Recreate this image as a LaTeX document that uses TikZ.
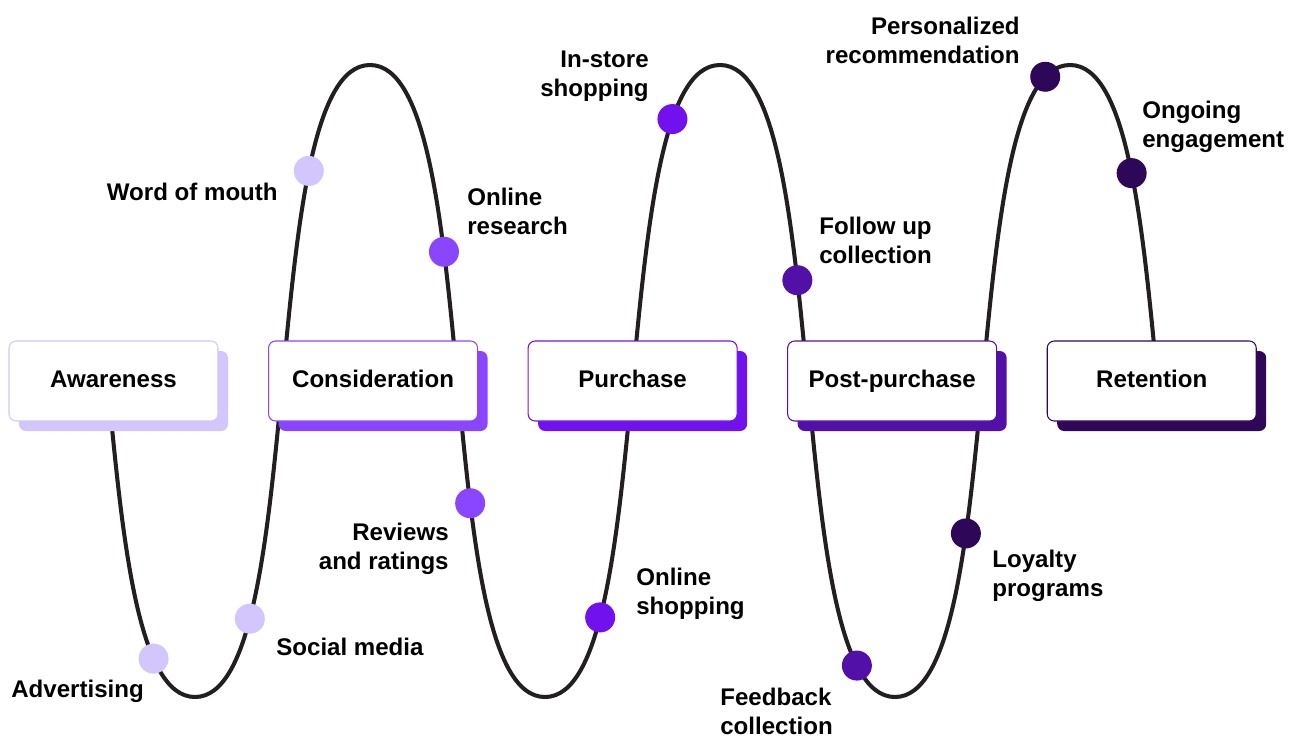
\documentclass[tikz,border=0pt]{standalone}
\usepackage{fontspec}
\setmainfont{Liberation Sans}
\usetikzlibrary{positioning,shadows}

\definecolor{awareC}{HTML}{D2C6FC}
\definecolor{consC}{HTML}{8A46FF}
\definecolor{buyC}{HTML}{7112EE}
\definecolor{postC}{HTML}{5310A9}
\definecolor{keepC}{HTML}{2E0758}
\definecolor{waveC}{HTML}{231F20}

\newcommand{\lblfont}{\fontsize{13.7}{16.5}\selectfont\bfseries}

\begin{document}
\begin{tikzpicture}[x=0.2mm, y=-0.2mm,
  node distance=9.9mm,
  wave/.style={draw=waveC, line width=2.3pt},
  stage/.style={draw=#1, line width=0.6pt, fill=white, rounded corners=1.4mm,
                minimum width=41.8mm, minimum height=16mm, font=\lblfont,
                text height=0.72em, text depth=0pt,
                general shadow={fill=#1, shadow xshift=2mm, shadow yshift=-2mm}},
  dot/.style={circle, fill=#1, minimum size=6mm, inner sep=0pt},
  lbl/.style={font=\lblfont, inner sep=0pt, align=left},
  lblr/.style={lbl, align=right}]
  \useasboundingbox (0,0) rectangle (1303,738);

  % the journey line, peaks and troughs joined by curves
  \draw[wave] (107.5,381)
    .. controls (122.5,539) and (137.5,697) .. (195,697) coordinate[pos=.70] (pAdv)
    .. controls (310,697) and (255,65) .. (370,65) coordinate[pos=.22] (pSoc) coordinate[pos=.74] (pWom)
    .. controls (485,65) and (430,697) .. (545,697) coordinate[pos=.36] (pRes) coordinate[pos=.632] (pRev)
    .. controls (660,697) and (605,65) .. (720,65) coordinate[pos=.222] (pOsh) coordinate[pos=.82] (pIns)
    .. controls (835,65) and (780,697) .. (895,697) coordinate[pos=.392] (pFol) coordinate[pos=.865] (pFee)
    .. controls (1010,697) and (955,65) .. (1070,65) coordinate[pos=.333] (pLoy) coordinate[pos=.919] (pPer)
    .. controls (1127.5,65) and (1142.5,223) .. (1157.5,381) coordinate[pos=.526] (pOng);

  % stages
  \node[stage=awareC] (aware) at (113.5,381) {Awareness};
  \node[stage=consC, right=of aware] (cons) {Consideration};
  \node[stage=buyC, right=of cons] (buy) {Purchase};
  \node[stage=postC, right=of buy] (post) {Post-purchase};
  \node[stage=keepC, right=of post] (keep) {Retention};

  % touchpoints
  \node[dot=awareC] (dAdv) at (pAdv) {};
  \node[dot=awareC] (dSoc) at (pSoc) {};
  \node[dot=awareC] (dWom) at (pWom) {};
  \node[dot=consC] (dRes) at (pRes) {};
  \node[dot=consC] (dRev) at (pRev) {};
  \node[dot=buyC] (dOsh) at (pOsh) {};
  \node[dot=buyC] (dIns) at (pIns) {};
  \node[dot=postC] (dFol) at (pFol) {};
  \node[dot=postC] (dFee) at (pFee) {};
  \node[dot=keepC] (dLoy) at (pLoy) {};
  \node[dot=keepC] (dPer) at (pPer) {};
  \node[dot=keepC] (dOng) at (pOng) {};

  \node[lbl, anchor=west] (tAdv) at (11,691) {Advertising};
  \node[lbl, anchor=west] (tSoc) at (276,647) {Social media};
  \node[lbl, anchor=east] (tWom) at (278,192) {Word of mouth};
  \node[lbl, anchor=west] (tRes) at (467,211) {Online\\research};
  \node[lblr, anchor=east] (tRev) at (449,549) {Reviews\\and ratings};
  \node[lbl, anchor=west] (tOsh) at (636,594) {Online\\shopping};
  \node[lblr, anchor=east] (tIns) at (649,76) {In-store\\shopping};
  \node[lbl, anchor=west] (tFol) at (819,240) {Follow up\\collection};
  \node[lbl, anchor=west] (tFee) at (720,711) {Feedback\\collection};
  \node[lbl, anchor=west] (tLoy) at (992,576) {Loyalty\\programs};
  \node[lblr, anchor=east] (tPer) at (1020,40) {Personalized\\recommendation};
  \node[lbl, anchor=west] (tOng) at (1142,127) {Ongoing\\engagement};
\end{tikzpicture}
\end{document}
